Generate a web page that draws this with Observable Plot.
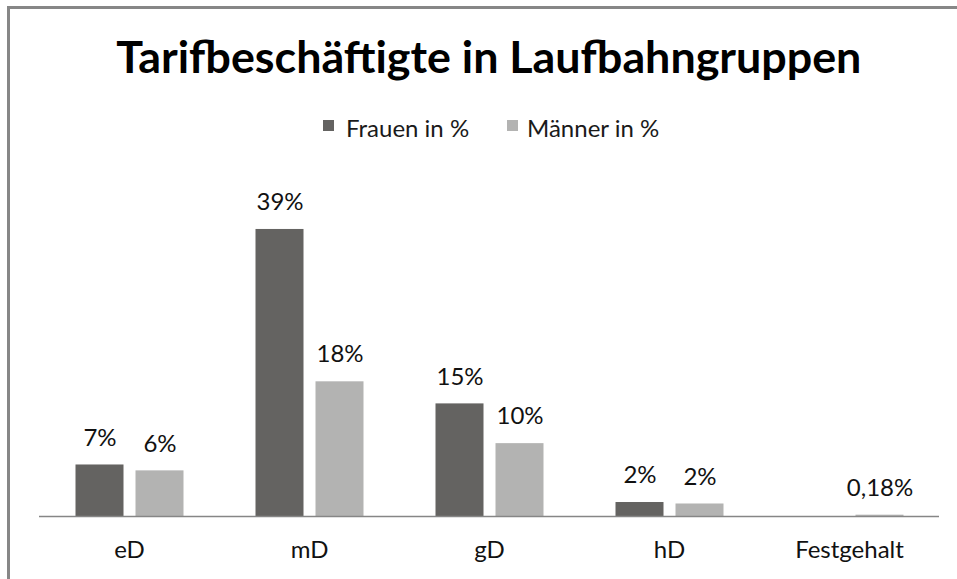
<!DOCTYPE html>
<html><head><meta charset="utf-8">
<script src="https://cdn.jsdelivr.net/npm/d3@7"></script>
<script src="https://cdn.jsdelivr.net/npm/@observablehq/plot@0.6"></script>
<style>
html,body{margin:0;padding:0;background:#fff;}
#wrap{position:relative;width:957px;height:579px;overflow:hidden;font-family:Lato,sans-serif;}
#border{position:absolute;left:7px;top:6px;right:-10px;bottom:-10px;border-top:3px solid #878787;border-left:3px solid #878787;pointer-events:none;}
#title{position:absolute;top:34px;left:0;width:978px;text-align:center;font:700 44px/44px Lato,sans-serif;color:#000;white-space:nowrap;}
#title span{display:inline-block;transform-origin:center;}
.lg{position:absolute;top:115.7px;font:400 24px/24px Lato,sans-serif;color:#1a1a1a;white-space:nowrap;}
.sw{position:absolute;top:120px;width:11px;height:11px;}
#chart{position:absolute;left:0;top:160px;}
</style></head><body>
<div id="wrap">
  <div id="title"><span id="titleText">Tarifbeschäftigte in Laufbahngruppen</span></div>
  <div id="legend"></div>
  <div id="chart"></div>
  <div id="border"></div>
</div>
<script>
const categories = ["eD", "mD", "gD", "hD", "Festgehalt"];
const series = ["Frauen in %", "Männer in %"];
const frauen = [7.0, 39.0, 15.3, 1.9, null];
const maenner = [6.2, 18.3, 9.9, 1.7, 0.18];
const frauenLabels = ["7%", "39%", "15%", "2%", ""];
const maennerLabels = ["6%", "18%", "10%", "2%", "0,18%"];
const colors = ["#646361", "#b3b3b2"];

// title fit
const tt = document.getElementById("titleText");
const w = tt.getBoundingClientRect().width;
tt.style.transform = `scaleX(${745 / w})`;

// legend
const legend = document.getElementById("legend");
const swX = [323, 507], txX = [346, 527];
series.forEach((s, i) => {
  const sw = document.createElement("div");
  sw.className = "sw"; sw.style.left = swX[i] + "px"; sw.style.background = colors[i];
  legend.appendChild(sw);
  const t = document.createElement("div");
  t.className = "lg"; t.style.left = txX[i] + "px"; t.textContent = s;
  legend.appendChild(t);
});

const rows = [];
categories.forEach((c, i) => {
  rows.push({cat: c, s: series[0], v: frauen[i], label: frauenLabels[i]});
  rows.push({cat: c, s: series[1], v: maenner[i], label: maennerLabels[i]});
});
const bars = rows.filter(d => d.v != null);

const chart = Plot.plot({
  width: 957, height: 419,
  marginLeft: 38.5, marginRight: 18.5, marginTop: 61.6, marginBottom: 63,
  style: {fontFamily: "Lato, sans-serif", fontSize: "24px", color: "#111", background: "transparent"},
  fx: {domain: categories, padding: 0, label: null},
  x: {domain: series, paddingInner: 0.2, paddingOuter: 0.6, axis: null},
  y: {domain: [0, 40], axis: null},
  color: {domain: series, range: colors},
  marks: [
    Plot.barY(bars, {fx: "cat", x: "s", y: "v", fill: "s"}),
    Plot.ruleY([0], {stroke: "#868686", strokeWidth: 1.3}),
    Plot.text(bars.filter(d => d.label), {fx: "cat", x: "s", y: "v", text: "label", dy: -27, fontSize: 24, fill: "#111"}),
    Plot.axisFx({anchor: "bottom", tickSize: 0, tickPadding: 24, fontSize: 24, label: null, fill: "#111"})
  ]
});
document.getElementById("chart").appendChild(chart);
</script>
</body></html>
